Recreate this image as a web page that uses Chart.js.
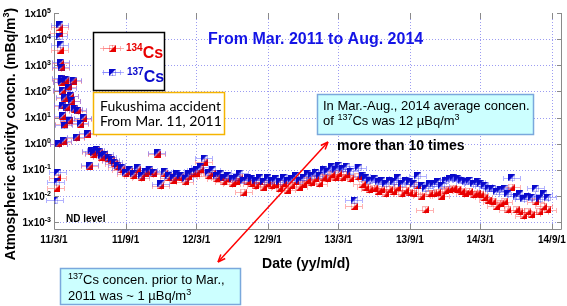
<!DOCTYPE html>
<html>
<head>
<meta charset="utf-8">
<script src="https://cdn.jsdelivr.net/npm/chart.js@4.4.0/dist/chart.umd.min.js"></script>
<style>
  html, body { margin: 0; padding: 0; background: #fff; }
  #wrap { width: 567px; height: 306px; }
</style>
</head>
<body>
<div id="wrap"><canvas id="chart" width="567" height="306"></canvas></div>
<script>
// sampling dates (yy-mm-dd)
const sampleDates = [
  '11-03-03','11-03-07','11-03-10','11-03-13','11-03-15','11-03-16','11-03-17','11-03-18','11-03-19','11-03-20',
  '11-03-21','11-03-22','11-03-23','11-03-24','11-03-25','11-03-27','11-03-29','11-03-31','11-04-03','11-04-06',
  '11-04-09','11-04-12','11-04-16','11-04-19','11-04-22','11-04-27','11-05-01','11-05-08','11-05-15','11-05-27',
  '11-06-01','11-06-05','11-06-11','11-06-18','11-06-25','11-07-02','11-07-10','11-07-18','11-07-26','11-08-03',
  '11-08-11','11-08-21',
  '11-09-01','11-09-11','11-09-21','11-10-01','11-10-11','11-10-21','11-11-01','11-11-11','11-11-21','11-12-01','11-12-11','11-12-21',
  '12-01-01','12-01-11','12-01-21','12-02-01','12-02-11','12-02-21','12-03-01','12-03-11','12-03-21','12-04-01','12-04-11','12-04-21',
  '12-05-01','12-05-11','12-05-21','12-06-01','12-06-11','12-06-21','12-07-01','12-07-11','12-07-21','12-08-01','12-08-11','12-08-21',
  '12-09-01','12-09-11','12-09-21','12-10-01','12-10-11','12-10-21','12-11-01','12-11-11','12-11-21','12-12-01','12-12-11','12-12-21',
  '13-01-01','13-01-11','13-01-21','13-02-01','13-02-11','13-02-21','13-03-01','13-03-11','13-03-21','13-04-01','13-04-11','13-04-21',
  '13-05-01','13-05-11','13-05-21','13-06-01','13-06-11','13-06-21','13-07-01','13-07-11','13-07-21','13-08-01','13-08-11','13-08-21',
  '13-09-01','13-09-11','13-09-21','13-10-01','13-10-11','13-10-21','13-11-01','13-11-11','13-11-21','13-12-01','13-12-11','13-12-21',
  '14-01-01','14-01-11','14-01-21','14-02-01','14-02-11','14-02-21','14-03-01','14-03-11','14-03-21','14-04-01','14-04-11','14-04-21',
  '14-05-01','14-05-11','14-05-21','14-06-01','14-06-11','14-06-21','14-07-01','14-07-11','14-07-21','14-08-01','14-08-11','14-08-21'
];

// 137Cs (mBq/m3)
const cs137 = [
  0.007, 0.035, 0.08, 1.0, 13000, 35000, 6000, 1300, 320, 850,
  230, 110, 12, 30, 1.3, 5, 60, 280, 25, 140,
  8, 70, 45, 270, 22, 1.8, 19, 6, 10, 2.5,
  0.15, 0.55, 0.45, 0.6, 0.5, 0.35, 0.4, 0.3, 0.25, 0.2,
  0.15, 0.12,
  0.08, 0.1, 0.07, 0.12, 0.06, 0.09, 0.1, 0.08, 0.45, 0.03, 0.09, 0.06,
  0.05, 0.07, 0.06, 0.045, 0.07, 0.09, 0.1, 0.13, 0.28, 0.08, 0.1, 0.06,
  0.07, 0.05, 0.06, 0.045, 0.05, 0.075, 0.04, 0.05, 0.045, 0.04, 0.05, 0.035,
  0.05, 0.04, 0.045, 0.035, 0.05, 0.04, 0.045, 0.06, 0.04, 0.05, 0.07, 0.06,
  0.08, 0.06, 0.1, 0.09, 0.13, 0.1, 0.15, 0.11, 0.14, 0.09, 0.007, 0.12,
  0.06, 0.05, 0.04, 0.045, 0.035, 0.04, 0.03, 0.04, 0.035, 0.05, 0.03, 0.04,
  0.035, 0.03, 0.06, 0.025, 0.02, 0.03, 0.03, 0.035, 0.025, 0.04, 0.045, 0.05,
  0.045, 0.04, 0.035, 0.04, 0.03, 0.035, 0.03, 0.025, 0.02, 0.02, 0.015, 0.018,
  0.02, 0.012, 0.05, 0.01, 0.012, 0.008, 0.01, 0.009, 0.02, 0.008, 0.012, 0.009
];

// 134Cs (mBq/m3)
const cs134 = [
  null, 0.02, 0.05, 1.0, 17000, 28000, 3800, 1200, 300, 800,
  220, 100, 11, 28, 1.2, 5.5, 55, 260, 24, 150,
  7.5, 65, 42, 250, 20, 1.7, 18, 5.5, 9, 2.3,
  0.14, 0.5, 0.4, 0.55, 0.45, 0.3, 0.35, 0.27, 0.22, 0.17,
  0.13, 0.1,
  0.07, 0.085, 0.06, 0.1, 0.05, 0.075, 0.085, 0.07, 0.4, 0.025, 0.075, 0.05,
  0.04, 0.055, 0.05, 0.035, 0.055, 0.07, 0.075, 0.1, 0.2, 0.06, 0.075, 0.045,
  0.05, 0.035, 0.045, 0.03, 0.035, 0.05, 0.014, 0.035, 0.03, 0.025, 0.035, 0.022,
  0.03, 0.025, 0.028, 0.02, 0.03, 0.017, 0.025, 0.035, 0.022, 0.028, 0.04, 0.032,
  0.045, 0.03, 0.05, 0.045, 0.065, 0.05, 0.07, 0.05, 0.065, 0.045, 0.004, 0.055,
  0.028, 0.022, 0.018, 0.02, 0.015, 0.018, 0.012, 0.018, 0.015, 0.022, 0.012, 0.017,
  0.014, 0.012, 0.025, 0.01, 0.003, 0.012, 0.012, 0.014, 0.01, 0.016, 0.018, 0.02,
  0.018, 0.015, 0.013, 0.015, 0.011, 0.013, 0.011, 0.009, 0.007, 0.006, 0.004, 0.005,
  0.006, 0.003, 0.022, 0.003, 0.0025, 0.0018, 0.0025, 0.002, 0.006, 0.0025, 0.004, 0.003
];

const xTickDates = ['11-03-01', '11-09-01', '12-03-01', '12-09-01', '13-03-01', '13-09-01', '14-03-01', '14-09-01'];
const xTickLabels = ['11/3/1', '11/9/1', '12/3/1', '12/9/1', '13/3/1', '13/9/1', '14/3/1', '14/9/1'];
const yTickExps = [-3, -2, -1, 0, 1, 2, 3, 4, 5];

const FONT = '"Liberation Sans", Arial, sans-serif';
const RED = '#e80000';
const BLUE = '#0a0acc';
const RED_ERR = 'rgba(255, 100, 100, 0.5)';
const BLUE_ERR = 'rgba(100, 100, 255, 0.5)';

function dayOf(s) {
    const p = s.split('-').map(Number);
    return (Date.UTC(2000 + p[0], p[1] - 1, p[2]) - Date.UTC(2011, 2, 1)) / 86400000;
}

function points(values) {
    return sampleDates.map((d, i) => ({ x: dayOf(d), y: values[i] })).filter(p => p.y != null);
}

// half-filled square markers
function makeMarker(color, lowerRight) {
    const c = document.createElement('canvas');
    c.width = 7;
    c.height = 7;
    const g = c.getContext('2d');
    g.fillStyle = color;
    g.beginPath();
    if (lowerRight) {
        g.moveTo(7, 0); g.lineTo(7, 7); g.lineTo(0, 7);
    } else {
        g.moveTo(0, 0); g.lineTo(7, 0); g.lineTo(0, 7);
    }
    g.closePath();
    g.fill();
    g.globalAlpha = 0.3;
    g.strokeStyle = color;
    g.lineWidth = 1;
    g.strokeRect(0.5, 0.5, 6, 6);
    return c;
}

// draws text made of runs: [text, size, bold, rise]
function textRuns(ctx, runs, x, y, align, color) {
    const fontOf = r => (r[2] ? 'bold ' : '') + r[1] + 'px ' + FONT;
    let w = 0;
    runs.forEach(r => { ctx.font = fontOf(r); w += ctx.measureText(r[0]).width; });
    let cx = align === 'right' ? x - w : align === 'center' ? x - w / 2 : x;
    ctx.textAlign = 'left';
    ctx.textBaseline = 'alphabetic';
    ctx.fillStyle = color || '#000';
    runs.forEach(r => {
        ctx.font = fontOf(r);
        ctx.fillText(r[0], cx, y - (r[3] || 0));
        cx += ctx.measureText(r[0]).width;
    });
}

function box(ctx, x, y, w, h, fill, stroke, lw) {
    ctx.fillStyle = fill;
    ctx.fillRect(x, y, w, h);
    ctx.strokeStyle = stroke;
    ctx.lineWidth = lw;
    ctx.strokeRect(x, y, w, h);
}

function arrowHead(ctx, x1, y1, x2, y2) {
    const a = Math.atan2(y2 - y1, x2 - x1);
    const len = 8, spread = 0.38;
    ctx.beginPath();
    ctx.moveTo(x2, y2);
    ctx.lineTo(x2 - len * Math.cos(a - spread), y2 - len * Math.sin(a - spread));
    ctx.moveTo(x2, y2);
    ctx.lineTo(x2 - len * Math.cos(a + spread), y2 - len * Math.sin(a + spread));
    ctx.stroke();
}

function errorBar(ctx, x, y, color) {
    ctx.strokeStyle = color;
    ctx.lineWidth = 1;
    ctx.beginPath();
    ctx.moveTo(x - 8, y + 0.5); ctx.lineTo(x + 8, y + 0.5);
    ctx.moveTo(x - 8.5, y - 2); ctx.lineTo(x - 8.5, y + 3);
    ctx.moveTo(x + 8.5, y - 2); ctx.lineTo(x + 8.5, y + 3);
    ctx.moveTo(x + 0.5, y - 3); ctx.lineTo(x + 0.5, y + 4);
    ctx.stroke();
}

const redMarker = makeMarker(RED, true);
const blueMarker = makeMarker(BLUE, false);

const framePlugin = {
    id: 'frame',
    beforeDatasetsDraw(chart) {
        const ctx = chart.ctx;
        const a = chart.chartArea;
        const xs = chart.scales.x;
        const ys = chart.scales.y;
        ctx.save();

        // dotted grid
        ctx.strokeStyle = '#9c9cf2';
        ctx.lineWidth = 1;
        ctx.setLineDash([1, 2]);
        ctx.beginPath();
        yTickExps.forEach(e => {
            if (e === 5) return;
            const y = Math.round(ys.getPixelForValue(Math.pow(10, e))) + 0.5;
            ctx.moveTo(a.left, y); ctx.lineTo(a.right, y);
        });
        xTickDates.forEach(d => {
            const x = Math.round(xs.getPixelForValue(dayOf(d))) + 0.5;
            ctx.moveTo(x, a.top); ctx.lineTo(x, a.bottom);
        });
        ctx.stroke();
        ctx.setLineDash([]);

        // axis lines and inside ticks
        ctx.strokeStyle = '#8a8a8a';
        ctx.beginPath();
        ctx.moveTo(a.left + 0.5, a.top); ctx.lineTo(a.left + 0.5, a.bottom + 0.5);
        ctx.lineTo(a.right - 0.5, a.bottom + 0.5); ctx.lineTo(a.right - 0.5, a.top);
        yTickExps.forEach(e => {
            const y = Math.round(ys.getPixelForValue(Math.pow(10, e))) + 0.5;
            ctx.moveTo(a.left, y); ctx.lineTo(a.left + 5, y);
            ctx.moveTo(a.right - 5, y); ctx.lineTo(a.right, y);
        });
        xTickDates.forEach(d => {
            const x = Math.round(xs.getPixelForValue(dayOf(d))) + 0.5;
            ctx.moveTo(x, a.bottom); ctx.lineTo(x, a.bottom - 5);
            ctx.moveTo(x, a.top); ctx.lineTo(x, a.top + 6);
        });
        ctx.stroke();

        // error bars
        [[1, RED_ERR], [0, BLUE_ERR]].forEach(([idx, color]) => {
            chart.getDatasetMeta(idx).data.forEach(pt => {
                errorBar(ctx, Math.round(pt.x), Math.round(pt.y), color);
            });
        });
        ctx.restore();
    },
    afterDraw(chart) {
        const ctx = chart.ctx;
        const ys = chart.scales.y;
        ctx.save();

        // y tick labels with exponent
        yTickExps.forEach(e => {
            const y = ys.getPixelForValue(Math.pow(10, e));
            textRuns(ctx, [['1x10', 10, true], [String(e), 7, true, 4]], 51, y + 3.5, 'right');
        });

        // axis titles
        textRuns(ctx, [['Date (yy/m/d)', 14, true]], 306, 268, 'center');
        ctx.save();
        ctx.translate(10, 134);
        ctx.rotate(-Math.PI / 2);
        textRuns(ctx, [['Atmospheric activity concn. (mBq/m', 14, true], ['3', 9, true, 6], [')', 14, true]], 0, 5, 'center');
        ctx.restore();

        // title
        textRuns(ctx, [['From Mar. 2011 to Aug. 2014', 16, true]], 208, 44, 'left', '#1414e6');

        // legend
        box(ctx, 93.5, 32.5, 71, 58, '#fff', '#000', 1.5);
        errorBar(ctx, 112, 48, RED_ERR);
        ctx.strokeStyle = RED_ERR;
        ctx.beginPath(); ctx.moveTo(100, 48.5); ctx.lineTo(124, 48.5); ctx.stroke();
        ctx.drawImage(redMarker, 109, 45);
        textRuns(ctx, [['134', 10, true, 7], ['Cs', 16, true]], 126, 58, 'left', RED);
        errorBar(ctx, 112, 72, BLUE_ERR);
        ctx.strokeStyle = BLUE_ERR;
        ctx.beginPath(); ctx.moveTo(102, 72.5); ctx.lineTo(124, 72.5); ctx.stroke();
        ctx.drawImage(blueMarker, 109, 69);
        textRuns(ctx, [['137', 10, true, 7], ['Cs', 16, true]], 127, 82, 'left', BLUE);

        // accident box
        box(ctx, 93.5, 92.5, 131, 42, '#fff', '#f5b400', 1.5);
        ctx.font = '14px Lato, "Open Sans", sans-serif';
        ctx.fillStyle = '#000';
        ctx.textAlign = 'left';
        ctx.textBaseline = 'alphabetic';
        ctx.fillText('Fukushima accident', 100, 111);
        ctx.fillText('From Mar. 11, 2011', 100, 126);

        // 2014 average box
        box(ctx, 317.5, 94.5, 216, 40, '#ccffff', '#7aa8dc', 1.5);
        textRuns(ctx, [['In Mar.-Aug., 2014 average concen.', 13, false]], 323, 110, 'left');
        textRuns(ctx, [['of ', 13, false], ['137', 9, false, 5], ['Cs was 12 \u00b5Bq/m', 13, false], ['3', 9, false, 5]], 323, 125, 'left');

        textRuns(ctx, [['more than 10 times', 14, true]], 337, 150, 'left');

        // red double arrow
        ctx.strokeStyle = '#ff0000';
        ctx.lineWidth = 1.5;
        ctx.beginPath(); ctx.moveTo(328, 142); ctx.lineTo(218, 262); ctx.stroke();
        arrowHead(ctx, 218, 262, 328, 142);
        arrowHead(ctx, 328, 142, 218, 262);

        // prior level box
        box(ctx, 60.5, 268.5, 180, 36, '#ccffff', '#7aa8dc', 1.5);
        textRuns(ctx, [['137', 9, false, 5], ['Cs concen. prior to Mar.,', 13, false]], 68, 284, 'left');
        textRuns(ctx, [['2011 was ~ 1 \u00b5Bq/m', 13, false], ['3', 9, false, 5]], 68, 300, 'left');

        textRuns(ctx, [['ND level', 10, true]], 66, 222, 'left');
        ctx.restore();
    }
};

new Chart(document.getElementById('chart'), {
    type: 'scatter',
    data: {
        datasets: [
            {
                label: '137Cs',
                data: points(cs137),
                pointStyle: blueMarker,
                pointRadius: 4,
                showLine: false
            },
            {
                label: '134Cs',
                data: points(cs134),
                pointStyle: redMarker,
                pointRadius: 4,
                showLine: false
            }
        ]
    },
    options: {
        responsive: false,
        animation: false,
        devicePixelRatio: 1,
        layout: { padding: { top: 13, right: 1, left: 0, bottom: 0 } },
        plugins: {
            legend: { display: false },
            tooltip: { enabled: false }
        },
        scales: {
            x: {
                type: 'linear',
                min: dayOf('11-03-01'),
                max: dayOf('14-09-27'),
                afterBuildTicks: s => { s.ticks = xTickDates.map(d => ({ value: dayOf(d) })); },
                afterFit: s => { s.height = 77; s.paddingLeft = 0; s.paddingRight = 0; },
                ticks: {
                    callback: (v, i) => xTickLabels[i],
                    font: { family: FONT, size: 10, weight: 'bold' },
                    color: '#000',
                    padding: 5,
                    maxRotation: 0,
                    autoSkip: false
                },
                grid: { display: false, drawTicks: false },
                border: { display: false }
            },
            y: {
                type: 'logarithmic',
                min: 0.00055,
                max: 100000,
                afterFit: s => { s.width = 54; s.paddingTop = 0; s.paddingBottom = 0; },
                ticks: { display: false },
                grid: { display: false, drawTicks: false },
                border: { display: false }
            }
        }
    },
    plugins: [framePlugin]
});
</script>
</body>
</html>
